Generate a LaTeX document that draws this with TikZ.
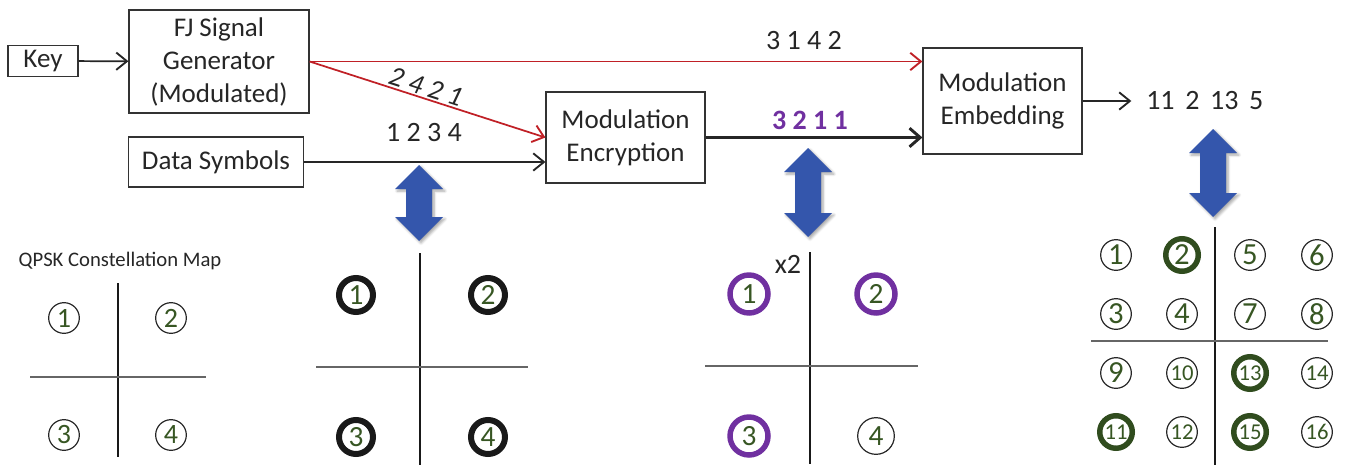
\documentclass[tikz,border=0pt]{standalone}
\usepackage{fontspec}
\setmainfont{Carlito}
\usetikzlibrary{arrows.meta,shadows.blur}

\definecolor{fjred}{RGB}{192,32,38}
\definecolor{dgreen}{RGB}{55,86,35}
\definecolor{ringgreen}{RGB}{48,76,30}
\definecolor{purp}{RGB}{112,48,160}
\definecolor{arrblue}{RGB}{52,86,172}

\tikzset{
  box/.style={draw=black!80, line width=0.9pt, inner sep=0pt, align=center,
    font=\fontsize{20.25}{24.75}\selectfont, text=black!85},
  lbl/.style={font=\fontsize{21}{25}\selectfont, inner sep=0pt, text=black!85},
  flow/.style={-{Straight Barb[length=8pt,width=13pt,line width=1.4pt]}, line width=1.3pt, draw=black!85},
  redflow/.style={flow, draw=fjred},
  thickflow/.style={-{Straight Barb[length=8pt,width=14pt,line width=2.2pt]}, line width=2.6pt, draw=black!85},
  vaxis/.style={line width=1.1pt, draw=black!90},
  haxis/.style={line width=1.1pt, draw=black!60},
  % circled constellation points
  cpt/.style={circle, inner sep=0pt, text=dgreen},
  thinpt/.style={cpt, draw=black!85, line width=0.9pt, minimum size=23pt,
    font=\fontsize{21}{21}\selectfont},
  blackpt/.style={cpt, draw=black!90, line width=4.5pt, minimum size=25.5pt,
    font=\fontsize{22}{22}\selectfont},
  purppt/.style={cpt, draw=purp, line width=4.1pt, minimum size=28.5pt,
    font=\fontsize{22}{22}\selectfont},
  purpthin/.style={cpt, draw=black!85, line width=0.9pt, minimum size=27.5pt,
    font=\fontsize{22}{22}\selectfont},
  gthin/.style={thinpt, font=\fontsize{23}{23}\selectfont},
  gthinsm/.style={thinpt, font=\fontsize{17}{17}\selectfont},
  gring/.style={cpt, draw=ringgreen, line width=4.1pt, minimum size=24.4pt,
    font=\fontsize{23}{23}\selectfont},
  gringsm/.style={gring, font=\fontsize{17}{17}\selectfont},
  % vertical blue double arrow, argument = half length
  pics/updown/.style={code={
    \fill[arrblue, blur shadow={shadow xshift=1.5pt, shadow yshift=-1.5pt,
        shadow blur steps=6, shadow opacity=35}]
      (0,-#1) -- (24,-#1+24) -- (13,-#1+24) -- (13,#1-24) -- (24,#1-24)
      -- (0,#1) -- (-24,#1-24) -- (-13,#1-24) -- (-13,-#1+24) -- (-24,-#1+24) -- cycle;
  }}
}

\begin{document}
\begin{tikzpicture}[x=0.75pt,y=-0.75pt]
\useasboundingbox (0,0) rectangle (1348,467);

% ---- processing blocks ----
\node[box, minimum width=0.75*70pt, minimum height=0.75*31pt] (key) at (43,61) {Key};
\node[box, minimum width=0.75*180pt, minimum height=0.75*103pt] (fj) at (219,61.5)
  {FJ Signal\\Generator\\(Modulated)};
\node[box, minimum width=0.75*175pt, minimum height=0.75*50pt] (ds) at (216,162) {Data Symbols};
\node[box, minimum width=0.75*159pt, minimum height=0.75*91pt] (enc) at (625.5,137.5)
  {Modulation\\Encryption};
\node[box, minimum width=0.75*159pt, minimum height=0.75*106pt] (emb) at (1002.5,101)
  {Modulation\\Embedding};
\node[lbl, anchor=west] (out) at (1146,101) {11\hspace{8pt}2\hspace{8pt}13\hspace{8pt}5};

% ---- connectors ----
\draw[flow] (key) -- (fj);
\draw[redflow] (fj.east) -- (fj.east -| emb.west);
\draw[redflow] (fj.east) -- (enc.west);
\draw[flow] (ds.east) -- (ds.east -| enc.west);
\draw[thickflow] (enc.east) -- (enc.east -| emb.west);
\draw[flow, shorten >=11pt] (emb.east) -- (out.west);

% ---- sequence labels ----
\node[lbl] (s3142) at (804,41) {3 1 4 2};
\node[lbl, rotate=-18, font=\fontsize{21}{25}\selectfont\itshape] (s2421) at (426,87) {2 4 2 1};
\node[lbl] (s1234) at (424,133) {1 2 3 4};
\node[lbl, text=purp, font=\fontsize{21}{25}\selectfont\bfseries] (s3211) at (810,120) {3 2 1 1};

% ---- blue mapping arrows ----
\pic (ba1) at (419,203) {updown=38};
\pic (ba2) at (808,192.5) {updown=44.5};
\pic (ba3) at (1213,173) {updown=44};

% ---- QPSK constellation map ----
\node[font=\fontsize{15.5}{15.5}\selectfont, inner sep=0pt, text=black!85] (qtitle) at (120,261)
  {QPSK Constellation Map};
\coordinate (qa1) at (118,283); \coordinate (qa2) at (118,457);
\coordinate (qb1) at (30,377);  \coordinate (qb2) at (206,377);
\draw[vaxis] (qa1) -- (qa2);
\draw[haxis] (qb1) -- (qb2);
\node[thinpt] (q1) at (64,318) {1};
\node[thinpt] (q2) at (171,318) {2};
\node[thinpt] (q3) at (64,435) {3};
\node[thinpt] (q4) at (171,435) {4};

% ---- data symbols on the map ----
\coordinate (da1) at (420,253); \coordinate (da2) at (420,465);
\coordinate (db1) at (316,367); \coordinate (db2) at (528,367);
\draw[vaxis] (da1) -- (da2);
\draw[haxis] (db1) -- (db2);
\node[blackpt] (d1) at (356,295) {1};
\node[blackpt] (d2) at (488,295) {2};
\node[blackpt] (d3) at (356,437) {3};
\node[blackpt] (d4) at (488,437) {4};

% ---- encrypted symbols on the map ----
\coordinate (ea1) at (810,252); \coordinate (ea2) at (810,464);
\coordinate (eb1) at (705,366); \coordinate (eb2) at (918,366);
\draw[vaxis] (ea1) -- (ea2);
\draw[haxis] (eb1) -- (eb2);
\node[purppt] (e1) at (749,294) {1};
\node[purppt] (e2) at (876,294) {2};
\node[purppt] (e3) at (749,436) {3};
\node[purpthin] (e4) at (876,436) {4};
\node[lbl] (x2) at (788,264) {x2};

% ---- 16-point embedding map ----
\coordinate (ma1) at (1215,227); \coordinate (ma2) at (1215,465);
\coordinate (mb1) at (1091,341); \coordinate (mb2) at (1328,341);
\draw[vaxis] (ma1) -- (ma2);
\draw[haxis] (mb1) -- (mb2);
\node[gthin] (m1) at (1116,255) {1};
\node[gring] (m2) at (1182,255) {2};
\node[gthin] (m5) at (1250,255) {5};
\node[gthin] (m6) at (1317,255) {6};
\node[gthin] (m3) at (1116,314) {3};
\node[gthin] (m4) at (1182,314) {4};
\node[gthin] (m7) at (1250,314) {7};
\node[gthin] (m8) at (1317,314) {8};
\node[gthin] (m9) at (1116,373) {9};
\node[gthinsm] (m10) at (1182,373) {10};
\node[gringsm] (m13) at (1250,373) {13};
\node[gthinsm] (m14) at (1317,373) {14};
\node[gringsm] (m11) at (1116,432) {11};
\node[gthinsm] (m12) at (1182,432) {12};
\node[gringsm] (m15) at (1250,432) {15};
\node[gthinsm] (m16) at (1317,432) {16};
\end{tikzpicture}
\end{document}
